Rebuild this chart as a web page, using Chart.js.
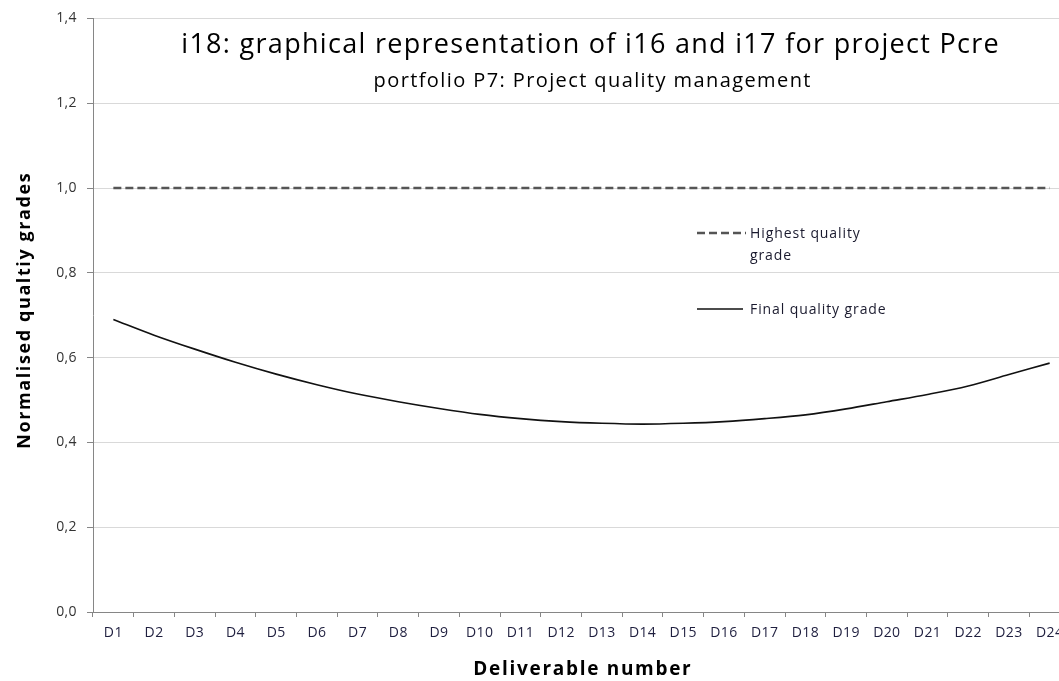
<!DOCTYPE html>
<html>
<head>
<meta charset="utf-8">
<script src="https://cdn.jsdelivr.net/npm/chart.js@4.4.1/dist/chart.umd.min.js"></script>
<style>
  html, body { margin: 0; padding: 0; background: #fff; overflow: hidden; }
  #wrap { width: 1075px; height: 681px; }
</style>
</head>
<body>
<div id="wrap"><canvas id="qualityChart"></canvas></div>
<script>
let deliverables = ["D1","D2","D3","D4","D5","D6","D7","D8","D9","D10","D11","D12",
                    "D13","D14","D15","D16","D17","D18","D19","D20","D21","D22","D23","D24"];
let highestGrade = [1,1,1,1,1,1,1,1,1,1,1,1,1,1,1,1,1,1,1,1,1,1,1,1];
let finalGrade = [0.690, 0.653, 0.620, 0.589, 0.561, 0.536, 0.514, 0.496, 0.480, 0.466, 0.456, 0.449,
                  0.445, 0.443, 0.445, 0.449, 0.456, 0.465, 0.479, 0.496, 0.513, 0.533, 0.560, 0.587];
let yTicks = [0, 0.2, 0.4, 0.6, 0.8, 1.0, 1.2, 1.4];

let chartTitle = "i18: graphical representation of i16 and i17 for project Pcre";
let chartSubtitle = "portfolio P7: Project quality management";
let xTitle = "Deliverable number";
let yTitle = "Normalised qualtiy grades";

const FONT = "'Open Sans', sans-serif";

function spacedText(ctx, text, x, y, font, spacing, align) {
  ctx.font = font;
  ctx.letterSpacing = spacing + "px";
  ctx.textAlign = align || 'center';
  // centred text gets a trailing gap from letterSpacing, nudge it back
  let dx = (align === 'left') ? 0 : spacing / 2;
  ctx.fillText(text, x + dx, y);
}

// titles and legend are drawn by hand (they sit inside the plot area in the original)
const textPlugin = {
  id: 'texts',
  beforeDraw(chart) {
    chart.ctx.letterSpacing = "0.4px";
  },
  afterDraw(chart) {
    const ctx = chart.ctx;
    ctx.save();
    ctx.textBaseline = 'alphabetic';
    ctx.fillStyle = '#000';
    spacedText(ctx, chartTitle, 590, 53, "27px " + FONT, 1.3);
    spacedText(ctx, chartSubtitle, 592, 87, "20px " + FONT, 1.4);

    // axis titles
    spacedText(ctx, xTitle, 582, 675, "bold 19px " + FONT, 1.7);
    ctx.save();
    ctx.translate(30, 311);
    ctx.rotate(-Math.PI / 2);
    spacedText(ctx, yTitle, 0, 0, "bold 18px " + FONT, 1.6);
    ctx.restore();

    // legend
    const ds = chart.data.datasets;
    ctx.fillStyle = '#1a1a2e';
    ctx.strokeStyle = ds[0].borderColor;
    ctx.lineWidth = ds[0].borderWidth;
    ctx.setLineDash(ds[0].borderDash);
    ctx.beginPath(); ctx.moveTo(697, 233); ctx.lineTo(746, 233); ctx.stroke();
    spacedText(ctx, "Highest quality", 750, 238, "14px " + FONT, 0.9, 'left');
    spacedText(ctx, "grade", 750, 260, "14px " + FONT, 0.9, 'left');
    ctx.strokeStyle = ds[1].borderColor;
    ctx.lineWidth = ds[1].borderWidth;
    ctx.setLineDash([]);
    ctx.beginPath(); ctx.moveTo(697, 309); ctx.lineTo(743, 309); ctx.stroke();
    spacedText(ctx, ds[1].label, 750, 314, "14px " + FONT, 0.9, 'left');
    ctx.restore();
  }
};

let chart = new Chart(document.getElementById("qualityChart"), {
  type: 'line',
  data: {
    labels: deliverables,
    datasets: [
      { label: 'Highest quality grade', data: highestGrade, borderColor: '#555',
        borderWidth: 2.5, borderDash: [8, 4], pointRadius: 0, tension: 0 },
      { label: 'Final quality grade', data: finalGrade, borderColor: '#111',
        borderWidth: 1.6, pointRadius: 0, cubicInterpolationMode: 'monotone' }
    ]
  },
  options: {
    responsive: true,
    maintainAspectRatio: false,
    animation: false,
    layout: { autoPadding: false, padding: { top: 12, right: 5, left: 0, bottom: 0 } },
    plugins: { legend: { display: false }, tooltip: { enabled: false } },
    scales: {
      x: {
        offset: true,
        grid: { offset: true, drawOnChartArea: false, drawTicks: true, tickLength: 5, color: '#868686' },
        border: { color: '#868686', width: 1 },
        ticks: { color: '#1f1f3f', font: { family: FONT, size: 14 }, padding: 8, maxRotation: 0, autoSkip: false },
        afterFit(scale) { scale.height = 69; }
      },
      y: {
        min: 0, max: 1.4,
        afterBuildTicks(scale) { scale.ticks = yTicks.map(v => ({ value: v })); },
        grid: { color: '#d9d9d9', tickLength: 6, tickColor: '#868686' },
        border: { color: '#868686', width: 1 },
        ticks: { color: '#333', font: { family: FONT, size: 14 }, padding: 10,
                 callback: v => v.toFixed(1).replace('.', ',') },
        afterFit(scale) { scale.width = 93; }
      }
    }
  },
  plugins: [textPlugin]
});
</script>
</body>
</html>
